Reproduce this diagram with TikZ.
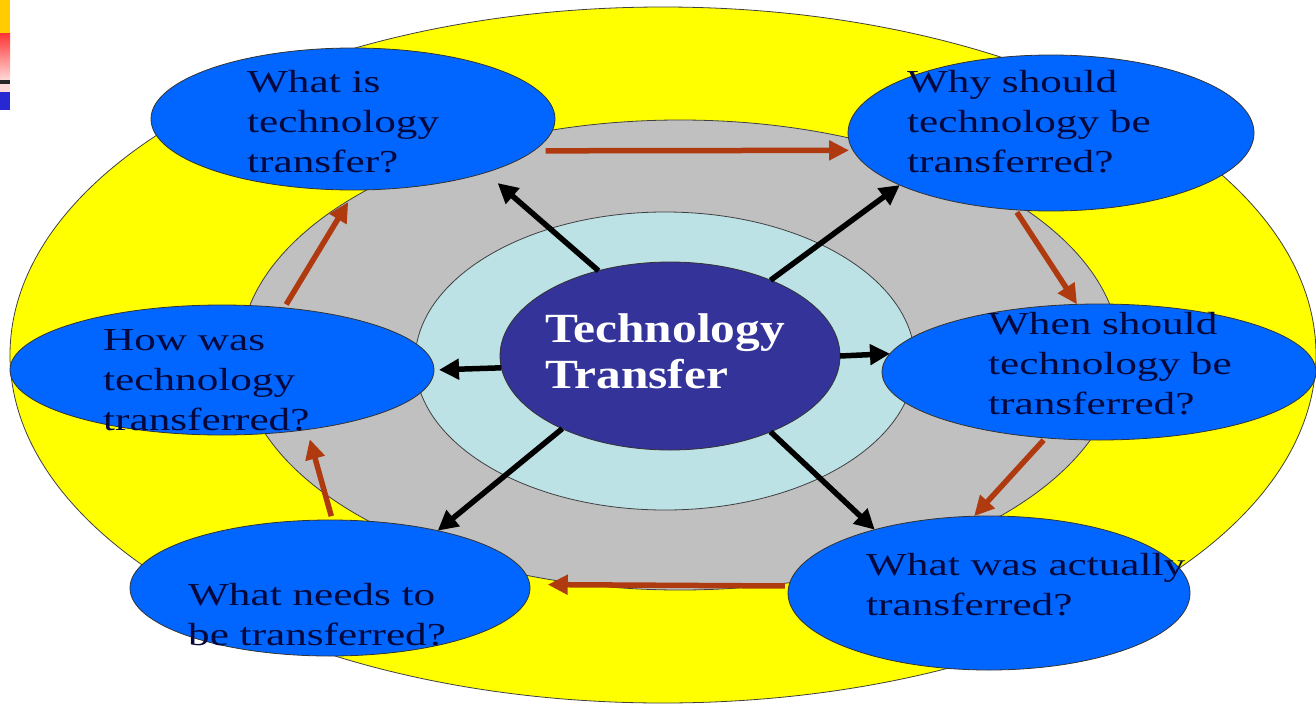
\documentclass[tikz,border=0pt]{standalone}
\usepackage{fontspec}
\setmainfont{Liberation Serif}
\newfontfamily\qfont[FakeStretch=1.35]{Liberation Serif}
\newfontfamily\cfont[FakeStretch=1.19]{Liberation Serif}
\usetikzlibrary{shapes.geometric,arrows.meta}
\definecolor{yel}{RGB}{255,255,0}
\definecolor{grayring}{RGB}{192,192,192}
\definecolor{cyanring}{RGB}{188,226,230}
\definecolor{navy}{RGB}{51,51,153}
\definecolor{bubble}{RGB}{0,102,255}
\definecolor{txt}{RGB}{5,8,60}
\definecolor{brownarr}{RGB}{176,58,16}
\definecolor{barorange}{RGB}{255,204,0}
\definecolor{barblue}{RGB}{40,40,210}
\begin{document}
\begin{tikzpicture}[x=1pt,y=-1pt,
  ring/.style={draw=black!75,line width=0.8pt},
  bub/.style={ellipse,fill=bubble,draw=black!80,line width=0.8pt,inner sep=0pt,outer sep=0pt},
  qtext/.style={anchor=west,align=left,inner sep=0pt,text=txt,font=\qfont\fontsize{32}{40}\selectfont},
  ctext/.style={anchor=west,align=left,inner sep=0pt,text=white,font=\cfont\bfseries\fontsize{41.5}{46}\selectfont},
  blk/.style={draw=black,line width=5.5pt,-{Triangle[length=20pt,width=20pt]}},
  brn/.style={draw=brownarr,line width=5.5pt,-{Triangle[length=20pt,width=19pt]}}]
\useasboundingbox (0,0) rectangle (1316,704);
\fill[white] (0,0) rectangle (1316,704);
% corner bars
\fill[barorange] (0,0) rectangle (10,33);
\shade[top color=red!80,bottom color=red!15] (0,33) rectangle (10,80);
\fill[black!85] (0,80) rectangle (10,84);
\fill[red!15] (0,84) rectangle (10,92);
\fill[barblue] (0,92) rectangle (10,110);
% rings
\filldraw[ring,fill=yel] (663,355) ellipse [x radius=653pt,y radius=348pt];
\filldraw[ring,fill=grayring] (680,355) ellipse [x radius=440pt,y radius=235pt];
\filldraw[ring,fill=cyanring] (665,361) ellipse [x radius=250pt,y radius=149pt];
% centre
\node[bub,fill=navy,minimum width=340pt,minimum height=188pt] (tt) at (670,356) {};
\node[ctext] (ttl) at (545,351.5) {Technology\\Transfer};
% bubbles
\node[bub,minimum width=404pt,minimum height=142pt] (tl) at (353,119) {};
\node[bub,minimum width=406pt,minimum height=156pt] (tr) at (1051,133) {};
\node[bub,minimum width=424pt,minimum height=130pt] (l) at (222,370) {};
\node[bub,minimum width=434pt,minimum height=136pt] (r) at (1099,372) {};
\node[bub,minimum width=400pt,minimum height=136pt] (bl) at (330,588) {};
\node[bub,minimum width=402pt,minimum height=154pt] (br) at (989,593) {};
% texts
\node[qtext] (tlt) at (247,122) {What is\\technology\\transfer?};
\node[qtext] (trt) at (907,121.5) {Why should\\technology be\\transferred?};
\node[qtext] (lt) at (103,380) {How was\\technology\\transferred?};
\node[qtext] (rt) at (988,364) {When should\\technology be\\transferred?};
\node[qtext] (brt) at (866,585) {What was actually\\transferred?};
\node[qtext] (blt) at (188,615) {What needs to\\be transferred?};
% black arrows
\draw[blk,shorten >=16pt] (tt.130) -- (tl.-22);
\draw[blk] (tt.37) -- (tr.199);
\draw[blk,shorten >=5pt] (tt.184) -- (l.east);
\draw[blk] (tt.east) -- (r.175.4);
\draw[blk] (tt.214.4) -- (bl.28);
\draw[blk] (tt.-37) -- (br.151);
% brown arrows
\draw[brn,shorten <=12pt,shorten >=4pt] (tl.-10) -- (tr.185.5);
\draw[brn,shorten <=3pt] (tr.-115) -- (r.108);
\draw[brn,shorten <=3pt] (r.-129) -- (br.101);
\draw[brn,shorten <=4pt,shorten >=18pt] (br.178) -- (bl.1);
\draw[brn,shorten <=4pt,shorten >=10pt] (bl.88) -- (l.-35);
\draw[brn,shorten <=4pt,shorten >=14pt] (l.45) -- (tl.-88);
\end{tikzpicture}
\end{document}
